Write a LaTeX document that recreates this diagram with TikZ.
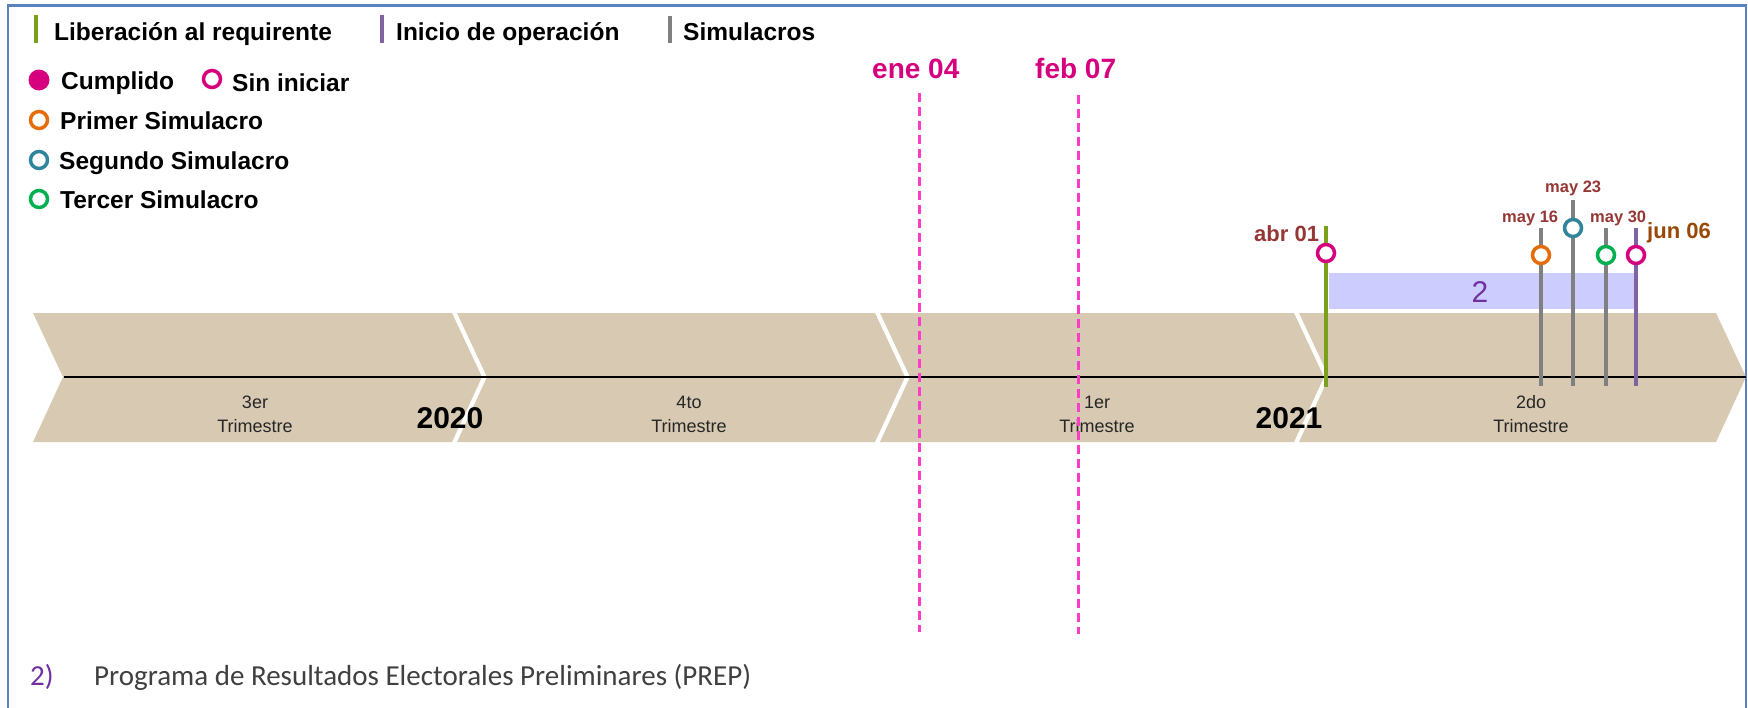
\documentclass[tikz,border=0pt]{standalone}
\usepackage{fontspec}
\setmainfont{Liberation Sans}
\newfontfamily\calibri{Carlito}
\definecolor{tl_frame}{RGB}{91, 130, 190}
\definecolor{tl_tan}{RGB}{216, 202, 178}
\definecolor{tl_band}{RGB}{204, 204, 255}
\definecolor{tl_olive}{RGB}{122, 160, 30}
\definecolor{tl_purple}{RGB}{128, 100, 162}
\definecolor{tl_grey}{RGB}{128, 128, 128}
\definecolor{tl_magenta}{RGB}{214, 0, 127}
\definecolor{tl_orange}{RGB}{228, 108, 10}
\definecolor{tl_teal}{RGB}{49, 133, 155}
\definecolor{tl_green}{RGB}{0, 176, 80}
\definecolor{tl_pink}{RGB}{255, 60, 200}
\definecolor{tl_date}{RGB}{149, 55, 53}
\definecolor{tl_jun}{RGB}{152, 72, 7}
\definecolor{tl_num}{RGB}{112, 48, 160}
\definecolor{tl_note}{RGB}{64, 64, 64}
\tikzstyle{ring}=[circle,fill=white,line width=3.5pt,minimum size=17pt,inner sep=0pt]
\tikzstyle{dot}=[circle,fill=tl_magenta,minimum size=21pt,inner sep=0pt]
\tikzstyle{leg}=[anchor=base west,inner sep=0pt,
  font=\bfseries\fontsize{24.5}{29}\selectfont]
\tikzstyle{qtr}=[align=center,inner sep=0pt,anchor=base,text=black!85,
  font=\fontsize{18}{24}\selectfont]
\tikzstyle{yr}=[anchor=base,inner sep=0pt,font=\bfseries\fontsize{30}{34}\selectfont]
\tikzstyle{datebig}=[anchor=base west,inner sep=0pt,text=tl_magenta,
  font=\bfseries\fontsize{28}{32}\selectfont]
\tikzstyle{datesm}=[anchor=base west,inner sep=0pt,text=tl_date,
  font=\bfseries\fontsize{16.5}{20}\selectfont]
\tikzstyle{datemd}=[anchor=base west,inner sep=0pt,
  font=\bfseries\fontsize{22}{26}\selectfont]
\tikzstyle{note}=[anchor=base west,inner sep=0pt,font=\calibri\fontsize{29}{34}\selectfont]
\tikzstyle{vline}=[line width=4pt]
\tikzstyle{cut}=[draw=tl_pink,line width=3pt,dash pattern=on 9pt off 5pt]
\tikzstyle{none}=[inner sep=0pt]

\begin{document}
\begin{tikzpicture}[x=1pt, y=-1pt]
    \useasboundingbox (0, 0) rectangle (1748, 707);
    \fill [white] (0, 0) rectangle (1748, 707);
    \draw [tl_frame, line width=2.5pt] (8, 5.5) rectangle (1746, 730);
    % legend
    \node [style=none] (0) at (36, 15) {};
    \node [style=none] (1) at (36, 43) {};
    \node [style=leg] (2) at (54, 40) {Liberación al requirente};
    \node [style=none] (3) at (382, 15) {};
    \node [style=none] (4) at (382, 43) {};
    \node [style=leg] (5) at (396, 40) {Inicio de operación};
    \node [style=none] (6) at (670, 16) {};
    \node [style=none] (7) at (670, 43) {};
    \node [style=leg] (8) at (683, 40) {Simulacros};
    \node [style=dot] (9) at (39, 80) {};
    \node [style=leg] (10) at (61, 89) {Cumplido};
    \node [style=ring, draw=tl_magenta] (11) at (212, 79) {};
    \node [style=leg] (12) at (232, 91) {Sin iniciar};
    \node [style=ring, draw=tl_orange] (13) at (39, 120) {};
    \node [style=leg] (14) at (60, 129) {Primer Simulacro};
    \node [style=ring, draw=tl_teal] (15) at (39, 160) {};
    \node [style=leg] (16) at (59, 169) {Segundo Simulacro};
    \node [style=ring, draw=tl_green] (17) at (39, 199) {};
    \node [style=leg] (18) at (60, 208) {Tercer Simulacro};
    \draw [style=vline, tl_olive] (0.center) to (1.center);
    \draw [style=vline, tl_purple] (3.center) to (4.center);
    \draw [style=vline, tl_grey] (6.center) to (7.center);
    % quarters
    \fill [tl_tan] (33, 313) -- (452, 313) -- (482, 377) -- (452, 442) -- (33, 442) -- (63, 377) -- cycle;
    \fill [tl_tan] (457, 313) -- (875, 313) -- (905, 377) -- (875, 442) -- (457, 442) -- (487, 377) -- cycle;
    \fill [tl_tan] (880, 313) -- (1294, 313) -- (1324, 377) -- (1294, 442) -- (880, 442) -- (910, 377) -- cycle;
    \fill [tl_tan] (1299, 313) -- (1716, 313) -- (1746, 377) -- (1716, 442) -- (1299, 442) -- (1329, 377) -- cycle;
    \node [style=none] (20) at (64, 377) {};
    \node [style=none] (21) at (1746, 377) {};
    \draw [line width=2.5pt] (20.center) to (21.center);
    \node [style=qtr] (22) at (255, 432) {3er\\Trimestre};
    \node [style=qtr] (23) at (689, 432) {4to\\Trimestre};
    \node [style=qtr] (24) at (1097, 432) {1er\\Trimestre};
    \node [style=qtr] (25) at (1531, 432) {2do\\Trimestre};
    \node [style=yr] (26) at (450, 428) {2020};
    \node [style=yr] (27) at (1289, 428) {2021};
    % PREP
    \fill [tl_band] (1329, 273) rectangle (1636, 309);
    \node [font=\fontsize{30}{34}\selectfont, text=tl_num] (28) at (1480, 292) {2};
    \node [style=none] (30) at (1326, 226) {};
    \node [style=none] (31) at (1326, 387) {};
    \node [style=none] (32) at (1541, 228) {};
    \node [style=none] (33) at (1541, 386) {};
    \node [style=none] (34) at (1573, 200) {};
    \node [style=none] (35) at (1573, 386) {};
    \node [style=none] (36) at (1606, 228) {};
    \node [style=none] (37) at (1606, 386) {};
    \node [style=none] (38) at (1636, 228) {};
    \node [style=none] (39) at (1636, 386) {};
    \draw [style=vline, tl_olive] (30.center) to (31.center);
    \draw [style=vline, tl_grey] (32.center) to (33.center);
    \draw [style=vline, tl_grey] (34.center) to (35.center);
    \draw [style=vline, tl_grey] (36.center) to (37.center);
    \draw [style=vline, tl_purple] (38.center) to (39.center);
    \node [style=ring, draw=tl_magenta] (40) at (1326, 253) {};
    \node [style=ring, draw=tl_orange] (41) at (1541, 255) {};
    \node [style=ring, draw=tl_teal] (42) at (1573, 228) {};
    \node [style=ring, draw=tl_green] (43) at (1606, 255) {};
    \node [style=ring, draw=tl_magenta] (44) at (1636, 255) {};
    \node [style=datemd, text=tl_date] (45) at (1254, 241) {abr 01};
    \node [style=datesm] (46) at (1502, 222) {may 16};
    \node [style=datesm] (47) at (1545, 192) {may 23};
    \node [style=datesm] (48) at (1590, 222) {may 30};
    \node [style=datemd, text=tl_jun] (49) at (1647, 238) {jun 06};
    % cut dates
    \node [style=datebig] (50) at (872, 78) {ene 04};
    \node [style=datebig] (51) at (1035, 78) {feb 07};
    \node [style=none] (52) at (919, 93) {};
    \node [style=none] (53) at (919, 632) {};
    \node [style=none] (54) at (1078, 95) {};
    \node [style=none] (55) at (1078, 634) {};
    \draw [style=cut] (52.center) to (53.center);
    \draw [style=cut] (54.center) to (55.center);
    % footnote
    \node [style=note, text=tl_num] (60) at (30, 685) {2)};
    \node [style=note, text=tl_note] (61) at (94, 685) {Programa de Resultados Electorales Preliminares (PREP)};
\end{tikzpicture}
\end{document}
